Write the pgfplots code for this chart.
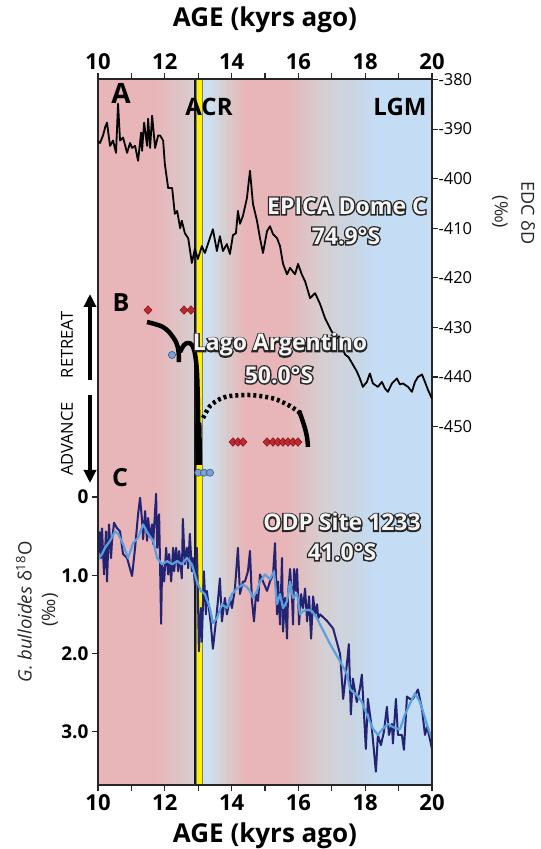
\documentclass[border=0pt]{standalone}
\usepackage{fontspec}
\setmainfont{Open Sans}
\newfontfamily\olstroke[UprightFeatures={FakeBold=12},BoldFeatures={FakeBold=12}]{Open Sans}
\usepackage{pgfplots}
\pgfplotsset{compat=1.18}
\usetikzlibrary{arrows.meta}

\definecolor{bgpink}{RGB}{232,181,184}
\definecolor{bggray}{RGB}{214,207,209}
\definecolor{bgltblue}{RGB}{206,225,240}
\definecolor{bgbluegray}{RGB}{200,214,228}
\definecolor{bgblue}{RGB}{197,220,245}
\definecolor{acryellow}{RGB}{255,240,0}
\definecolor{odpdark}{RGB}{35,35,115}
\definecolor{odplight}{RGB}{90,160,225}
\definecolor{moraine}{RGB}{196,38,44}
\definecolor{shellblue}{RGB}{120,160,220}

% outlined label: x, y (pt), size, text
\newcommand{\olabel}[4]{%
  \node[text=black!85,font=\fontsize{#3}{#3}\selectfont\olstroke\bfseries] at (#1pt,#2pt) {#4};
  \node[text=white!96!black,font=\fontsize{#3}{#3}\selectfont\bfseries] at (#1pt,#2pt) {#4};}

\begin{document}
\begin{tikzpicture}
\path[use as bounding box] (0,0) rectangle (541pt,849pt);

% lower axis: background, panel B and ODP 1233
\begin{axis}[
  at={(98pt,64pt)}, anchor=south west,
  width=334pt, height=706pt, scale only axis,
  xmin=10, xmax=20, ymin=-5.34, ymax=3.68, y dir=reverse,
  xtick={10,12,14,16,18,20}, xticklabels={10,12,14,16,18,20},
  minor xtick={11,13,15,17,19},
  xtick pos=bottom, ytick pos=left,
  ytick={0,1,2,3}, yticklabels={0,1.0,2.0,3.0},
  tick align=outside, major tick length=6pt, minor tick length=6pt,
  tick style={black!85, line width=1.1pt},
  axis line style={black!85, line width=1.2pt},
  xticklabel style={font=\fontsize{22}{22}\selectfont\bfseries},
  yticklabel style={font=\fontsize{19}{19}\selectfont\bfseries},
  xlabel={AGE (kyrs ago)},
  xlabel style={at={(axis description cs:0.5,0)}, anchor=base, yshift=-57pt,
    font=\fontsize{26}{26}\selectfont\bfseries},
]
% climate background
\fill[bgpink] (axis cs:10,-5.34) rectangle (axis cs:11.72,3.68);
\shade[left color=bgpink, right color=bggray] (axis cs:11.7,-5.34) rectangle (axis cs:12.94,3.68);
\fill[bgltblue] (axis cs:13.1,-5.34) rectangle (axis cs:13.36,3.68);
\shade[left color=bgltblue, right color=bggray] (axis cs:13.34,-5.34) rectangle (axis cs:13.76,3.68);
\shade[left color=bggray, right color=bgpink] (axis cs:13.74,-5.34) rectangle (axis cs:14.42,3.68);
\fill[bgpink] (axis cs:14.4,-5.34) rectangle (axis cs:15.62,3.68);
\shade[left color=bgpink, right color=bggray] (axis cs:15.6,-5.34) rectangle (axis cs:16.72,3.68);
\shade[left color=bggray, right color=bgbluegray] (axis cs:16.7,-5.34) rectangle (axis cs:17.72,3.68);
\shade[left color=bgbluegray, right color=bgblue] (axis cs:17.7,-5.34) rectangle (axis cs:18.32,3.68);
\fill[bgblue] (axis cs:18.3,-5.34) rectangle (axis cs:20,3.68);
% ACR bar
\filldraw[fill=acryellow, draw=black!50, line width=0.4pt] (axis cs:12.93,-5.34) rectangle (axis cs:13.12,3.68);
\draw[black!90, line width=1.3pt] (axis cs:12.9,-5.34) -- (axis cs:12.9,3.68);

% C: ODP Site 1233 G. bulloides d18O
\addplot[odpdark, line width=2pt, line join=round] coordinates {
(10.00,0.75)(10.05,0.45)(10.09,0.78)(10.12,0.40)(10.18,0.99)(10.24,0.44)(10.27,1.08)(10.33,0.35)
(10.39,0.78)(10.42,0.56)(10.48,0.33)(10.57,0.40)(10.66,0.44)(10.75,0.73)(10.87,0.78)(11.02,1.01)
(11.11,0.65)(11.20,0.22)(11.26,0.01)(11.32,0.31)(11.35,0.54)(11.41,0.18)(11.47,0.56)(11.50,0.27)
(11.56,0.52)(11.62,0.35)(11.65,0.60)(11.74,-0.04)(11.77,0.65)(11.83,0.22)(11.89,1.62)(11.92,0.86)
(11.98,1.08)(12.04,0.65)(12.10,0.99)(12.13,0.73)(12.19,1.08)(12.25,0.65)(12.28,0.95)(12.34,0.65)
(12.40,0.95)(12.43,0.69)(12.51,1.04)(12.54,0.28)(12.60,0.86)(12.66,0.65)(12.70,0.91)(12.75,0.47)
(12.81,0.95)(12.84,0.78)(12.90,1.12)(12.96,0.65)(12.99,1.20)(13.02,1.97)(13.08,1.42)(13.11,1.85)
(13.17,0.95)(13.23,1.50)(13.26,1.20)(13.32,1.42)(13.38,1.63)(13.44,1.94)(13.53,1.59)(13.59,1.33)
(13.65,1.04)(13.71,1.59)(13.80,1.29)(13.86,1.50)(13.95,1.29)(14.01,1.42)(14.10,1.17)(14.19,0.65)
(14.25,1.24)(14.34,1.08)(14.40,1.08)(14.49,0.95)(14.55,0.69)(14.61,1.33)(14.67,1.59)(14.73,1.24)
(14.79,1.33)(14.85,0.99)(14.94,1.08)(15.06,1.20)(15.15,1.08)(15.24,0.99)(15.30,0.59)(15.36,1.50)
(15.39,1.08)(15.45,1.63)(15.51,0.78)(15.54,1.72)(15.60,1.29)(15.66,1.81)(15.69,1.24)(15.75,0.92)
(15.81,1.29)(15.84,1.63)(15.87,0.92)(15.93,1.20)(15.96,0.92)(16.02,1.63)(16.08,1.24)(16.14,1.42)
(16.20,1.17)(16.26,1.59)(16.32,1.27)(16.38,1.81)(16.44,1.27)(16.50,1.50)(16.56,1.37)(16.59,1.55)
(16.65,1.50)(16.85,1.58)(17.04,1.68)(17.25,2.01)(17.34,2.58)(17.46,2.10)(17.51,1.88)(17.57,2.78)
(17.63,2.32)(17.75,2.62)(17.84,2.45)(17.90,2.27)(18.02,3.22)(18.08,2.58)(18.20,2.96)(18.32,3.51)
(18.38,3.04)(18.47,3.17)(18.56,3.00)(18.65,2.68)(18.71,3.04)(18.80,2.90)(18.83,3.15)(18.92,2.58)
(18.98,3.04)(19.10,3.04)(19.16,3.23)(19.25,2.55)(19.34,2.58)(19.43,2.58)(19.58,2.46)(19.70,2.71)
(19.79,3.04)(19.85,2.94)(19.91,3.04)(20.00,3.22)};
\addplot[odplight, line width=2.2pt, line join=round] coordinates {
(10.00,0.80)(10.12,0.73)(10.21,0.65)(10.36,0.56)(10.51,0.44)(10.60,0.47)(10.75,0.60)(10.90,0.78)
(11.05,0.59)(11.20,0.52)(11.35,0.35)(11.50,0.47)(11.65,0.56)(11.77,0.78)(11.92,0.86)(12.07,0.82)
(12.22,0.86)(12.37,0.82)(12.51,0.86)(12.66,0.78)(12.81,0.86)(12.96,1.08)(13.08,1.20)(13.20,1.24)
(13.35,1.42)(13.44,1.61)(13.56,1.55)(13.71,1.37)(13.86,1.42)(14.01,1.24)(14.16,1.17)(14.34,1.12)
(14.45,1.15)(14.55,1.20)(14.64,1.29)(14.76,1.20)(14.85,1.08)(15.00,0.99)(15.15,1.05)(15.27,0.95)
(15.36,1.37)(15.45,1.24)(15.54,1.42)(15.66,1.33)(15.75,1.08)(15.84,1.29)(15.96,1.24)(16.05,1.50)
(16.14,1.46)(16.29,1.44)(16.41,1.46)(16.56,1.55)(16.65,1.63)(16.95,1.88)(17.25,2.10)(17.46,2.27)
(17.54,2.45)(17.63,2.49)(17.75,2.53)(17.90,2.62)(18.05,2.78)(18.23,2.96)(18.38,3.04)(18.53,2.96)
(18.68,2.90)(18.83,2.94)(19.04,2.97)(19.19,2.78)(19.34,2.64)(19.49,2.51)(19.64,2.62)(19.73,2.74)
(19.85,2.91)(20.00,3.09)};

% B: Lago Argentino glacier record (schematic, plotted in panel units)
\addplot[black, line width=4.5pt, smooth, tension=0.6] coordinates {
(11.467,-2.235)(11.946,-2.171)(12.246,-2.043)(12.395,-1.903)(12.425,-1.724)};
\addplot[black, line width=4.5pt, smooth, tension=0.6] coordinates {
(12.455,-1.852)(12.575,-1.941)(12.695,-1.967)(12.814,-1.941)(12.904,-1.826)
(12.964,-1.584)(12.994,-1.111)(13.024,-0.409)};
\addplot[black, line width=6.5pt] coordinates {(13.00,-0.95)(13.024,-0.409)};
\addplot[black, line width=4.5pt, smooth, dash pattern=on 3pt off 3pt] coordinates {
(13.144,-1.009)(13.353,-1.162)(13.653,-1.252)(13.952,-1.290)(14.491,-1.303)(14.850,-1.290)
(15.299,-1.252)(15.749,-1.162)(16.048,-1.073)};
\addplot[black, line width=4.5pt, smooth] coordinates {
(16.02,-1.10)(16.168,-0.920)(16.257,-0.766)(16.287,-0.639)};
\addplot[only marks, mark=diamond*, mark size=4.3pt,
  mark options={fill=moraine, draw=moraine!60!black, line width=0.5pt, xscale=1.25}] coordinates {
(11.497,-2.388)(12.575,-2.388)(12.784,-2.388)
(14.042,-0.702)(14.192,-0.702)(14.341,-0.702)
(15.060,-0.702)(15.240,-0.702)(15.389,-0.702)(15.539,-0.702)(15.689,-0.702)(15.838,-0.702)(15.988,-0.702)};
\addplot[only marks, mark=*, mark size=3.6pt,
  mark options={fill=shellblue, draw=shellblue!55!black, line width=0.6pt}] coordinates {
(12.216,-1.814)(13.003,-0.310)(13.174,-0.310)(13.353,-0.310)};
\end{axis}

% upper axis: EPICA Dome C dD
\begin{axis}[
  at={(98pt,64pt)}, anchor=south west,
  width=334pt, height=706pt, scale only axis,
  xmin=10, xmax=20, ymin=-522.3, ymax=-379.9,
  xtick={10,12,14,16,18,20}, xticklabels={10,12,14,16,18,20},
  minor xtick={11,13,15,17,19},
  xtick pos=top, xticklabel pos=top,
  ytick={-450,-440,-430,-420,-410,-400,-390,-380},
  yticklabels={-450,-440,-430,-420,-410,-400,-390,-380},
  ytick pos=right, yticklabel pos=right,
  tick align=outside, major tick length=6pt, minor tick length=6pt,
  tick style={black!85, line width=1.1pt},
  axis line style={black!85, line width=1.2pt},
  xticklabel style={font=\fontsize{22}{22}\selectfont\bfseries},
  yticklabel style={font=\fontsize{16.5}{16.5}\selectfont, xshift=-3pt},
  xlabel={AGE (kyrs ago)},
  xlabel style={at={(axis description cs:0.5,1)}, anchor=base, yshift=52pt,
    font=\fontsize{26}{26}\selectfont\bfseries},
]
\addplot[black, line width=1.8pt, line join=round] coordinates {
(10.00,-392.5)(10.06,-392.8)(10.15,-391.3)(10.22,-389.5)(10.27,-388.7)(10.30,-390.3)(10.36,-393.4)
(10.45,-392.3)(10.54,-394.8)(10.60,-384.9)(10.66,-392.3)(10.75,-391.7)(10.87,-394.8)(10.96,-392.8)
(11.02,-393.8)(11.11,-393.4)(11.20,-396.4)(11.29,-390.7)(11.32,-394.4)(11.38,-388.7)(11.47,-393.4)
(11.50,-387.9)(11.56,-393.8)(11.62,-387.3)(11.71,-393.8)(11.80,-391.3)(11.86,-391.3)(11.95,-392.3)
(12.00,-397.0)(12.07,-400.4)(12.10,-401.9)(12.22,-401.9)(12.30,-407.1)(12.37,-406.5)(12.46,-410.0)
(12.51,-408.5)(12.60,-411.0)(12.70,-412.0)(12.81,-417.0)(12.90,-414.2)(12.99,-416.2)(13.11,-413.6)
(13.20,-415.0)(13.35,-412.0)(13.44,-410.2)(13.56,-414.6)(13.65,-411.6)(13.74,-414.6)(13.86,-413.2)
(13.95,-415.2)(14.04,-411.4)(14.13,-411.0)(14.19,-406.5)(14.25,-409.1)(14.34,-407.5)(14.46,-403.9)
(14.55,-398.4)(14.64,-405.1)(14.76,-408.5)(14.85,-412.0)(14.94,-415.0)(15.06,-410.6)(15.15,-409.6)
(15.24,-411.2)(15.36,-412.0)(15.45,-413.6)(15.54,-417.2)(15.66,-419.3)(15.75,-418.0)(15.90,-419.3)
(15.99,-417.2)(16.10,-419.3)(16.20,-420.7)(16.35,-424.1)(16.50,-423.1)(16.65,-425.3)(16.80,-428.2)
(16.95,-430.2)(17.05,-431.5)(17.16,-432.2)(17.22,-431.8)(17.30,-434.0)(17.40,-435.5)(17.50,-436.0)
(17.63,-437.5)(17.75,-438.9)(17.84,-440.3)(17.93,-442.0)(18.05,-441.0)(18.14,-439.3)(18.23,-441.3)
(18.38,-442.0)(18.50,-441.0)(18.59,-442.3)(18.68,-443.0)(18.80,-441.3)(18.95,-440.3)(19.04,-441.5)
(19.13,-441.3)(19.28,-442.0)(19.40,-443.0)(19.49,-441.0)(19.58,-440.0)(19.70,-439.5)(19.79,-441.0)
(19.88,-442.6)(20.00,-444.4)};
\end{axis}

% panel letters and period labels
\node[font=\fontsize{28}{28}\selectfont\bfseries] at (121pt,756pt) {A};
\node[font=\fontsize{25}{25}\selectfont\bfseries] at (121pt,546pt) {B};
\node[font=\fontsize{25}{25}\selectfont\bfseries] at (120pt,371pt) {C};
\node[font=\fontsize{24}{24}\selectfont\bfseries] at (209pt,742pt) {ACR};
\node[font=\fontsize{24}{24}\selectfont\bfseries] at (400pt,742pt) {LGM};

% outlined site labels
\olabel{347}{643}{23}{EPICA Dome C}
\olabel{346}{613}{23}{74.9°S}
\olabel{280}{504}{23}{Lago Argentino}
\olabel{279}{474}{23}{50.0°S}
\olabel{342}{327}{23}{ODP Site 1233}
\olabel{342}{297}{23}{41.0°S}

% retreat / advance
\node[rotate=90, font=\fontsize{16.5}{16.5}\selectfont] at (67pt,504pt) {RETREAT};
\node[rotate=90, font=\fontsize{16.5}{16.5}\selectfont] at (67pt,410pt) {ADVANCE};
\draw[line width=3.5pt, -{Triangle[length=13pt,width=12pt]}] (90pt,469pt) -- (90pt,555pt);
\draw[line width=3.5pt, -{Triangle[length=13pt,width=12pt]}] (90pt,454pt) -- (90pt,366pt);

% axis titles
\node[rotate=90, text=black!85, font=\fontsize{18.5}{18.5}\selectfont] at (24pt,237pt)
  {\textit{G. bulloides} δ\textsuperscript{18}O};
\node[rotate=90, text=black!85, font=\fontsize{18.5}{18.5}\selectfont] at (50pt,239pt) {(‰)};
\node[rotate=-90, text=black!85, font=\fontsize{18}{18}\selectfont] at (528pt,636pt) {EDC δD};
\node[rotate=-90, text=black!85, font=\fontsize{18}{18}\selectfont] at (500pt,637pt) {(‰)};
\end{tikzpicture}
\end{document}
